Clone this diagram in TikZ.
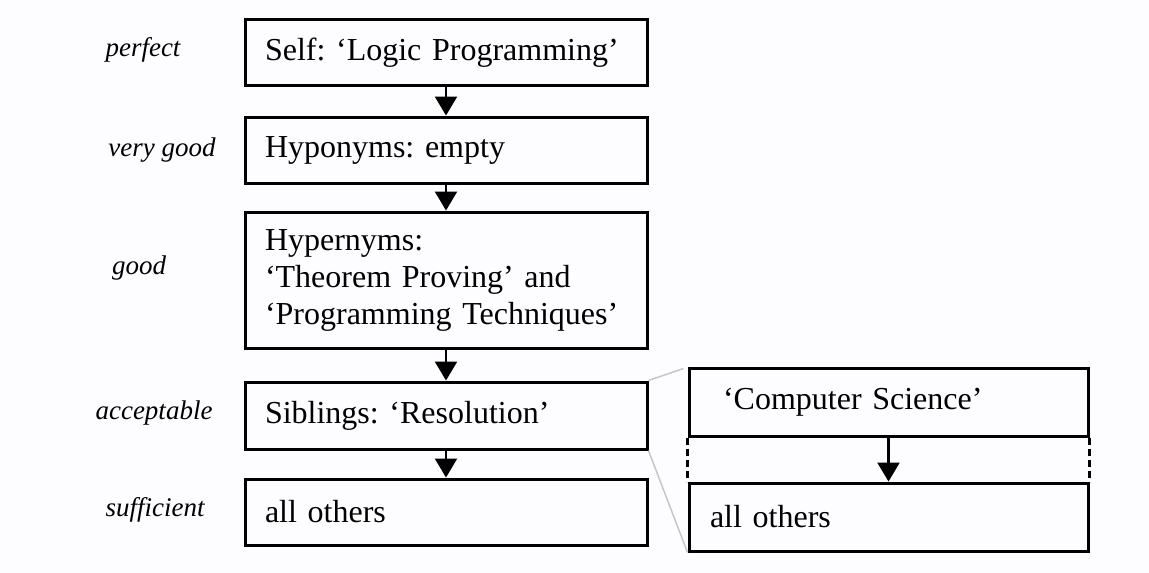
\documentclass[tikz,border=0pt]{standalone}
\usepackage{fontspec}
\setmainfont{Liberation Serif}
\usetikzlibrary{arrows.meta, positioning}
\frenchspacing

\begin{document}
\begin{tikzpicture}[x=1pt, y=-1pt, font=\fontsize{32}{37}\selectfont,
    box/.style={draw, line width=3pt, align=left, inner xsep=20pt, text width=362pt, minimum height=66pt},
    rbox/.style={draw, line width=3pt, align=left, inner xsep=21pt, text width=357pt, minimum height=68pt},
    lvl/.style={font=\fontsize{27}{32}\selectfont\itshape},
    arr/.style={-{Triangle[width=22pt, length=19pt]}, line width=2.5pt},
    link/.style={gray!45, line width=1.5pt}]
    \fill[white!97!blue!30!white] (0,0) rectangle (1149,573);

    \node[box] (self) at (446,52.5) {Self: `Logic Programming'};
    \node[box] (hypo) at (446,150) {Hyponyms: empty};
    \node[box, minimum height=136pt] (hyper) at (446,280) {Hypernyms:\\`Theorem Proving' and\\`Programming Techniques'};
    \node[box, minimum height=67pt] (sib) at (446,415.5) {Siblings: `Resolution'};
    \node[box, minimum height=66pt] (others) at (446,512) {all others};

    \node[rbox, inner xsep=34pt, text width=331pt] (cs) at (888.5,402) {`Computer Science'};
    \node[rbox] (others2) at (888.5,517) {all others};

    \node[lvl] (perfect) at (143,50) {perfect};
    \node[lvl] (vgood) at (162,150) {very good};
    \node[lvl] (good) at (139,268) {good};
    \node[lvl] (accept) at (154,413) {acceptable};
    \node[lvl] (suff) at (155,510) {sufficient};

    \draw[arr] (self) -- (hypo);
    \draw[arr] (hypo) -- (hyper);
    \draw[arr] (hyper) -- (sib);
    \draw[arr] (sib) -- (others);
    \draw[arr] (cs) -- (others2);
    \draw[dash pattern=on 7pt off 4pt, line width=2.5pt] (cs.south west) -- (others2.north west);
    \draw[dash pattern=on 7pt off 4pt, line width=2.5pt] (cs.south east) -- (others2.north east);

    \draw[link] (sib.north east) -- ([xshift=-4pt, yshift=-2pt]cs.north west);
    \draw[link] (sib.south east) -- (others2.south west);
\end{tikzpicture}
\end{document}
